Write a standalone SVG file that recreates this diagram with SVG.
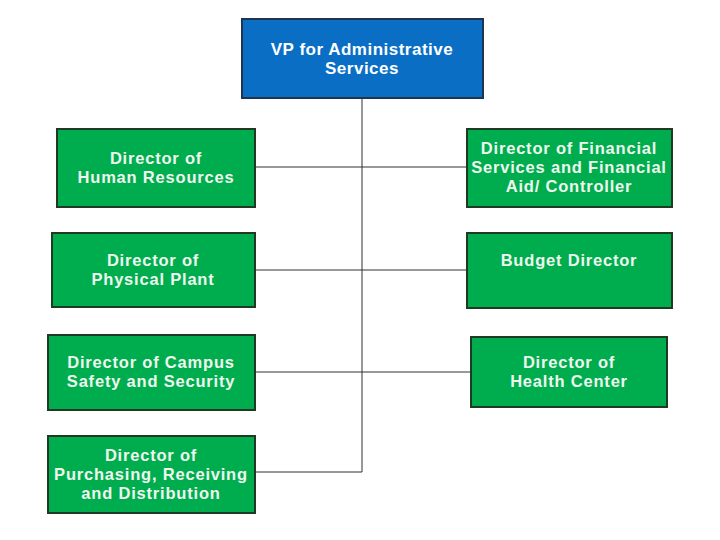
<svg xmlns="http://www.w3.org/2000/svg" width="720" height="540" viewBox="0 0 720 540">
<style>
.g{fill:#00ad4e;stroke:#1e3a22;stroke-width:2}
.b{fill:#0a6fc4;stroke:#1d3550;stroke-width:2}
text{font-family:"Liberation Sans",Arial,sans-serif;font-weight:bold;text-anchor:middle}
.t{font-size:16.5px;letter-spacing:0.8px;fill:#eef7ee}
.v{font-size:17px;letter-spacing:0.5px;fill:#ffffff}
.c{stroke:#333;stroke-width:1;fill:none}
</style>
<rect width="720" height="540" fill="#fff"/>
<g id="connectors">
<path class="c" d="M362 98V472M255 167H466M255 270H466M255 372H470M255 472H362"/>
</g>
<g id="vp"><rect class="b" x="242" y="19" width="241" height="79"/>
<text class="v" x="362" y="55">VP for Administrative</text><text class="v" x="362" y="74">Services</text></g>
<g id="hr"><rect class="g" x="57" y="129" width="198" height="78"/>
<text class="t" x="156" y="164">Director of</text><text class="t" x="156" y="183">Human Resources</text></g>
<g id="plant"><rect class="g" x="52" y="233" width="203" height="74"/>
<text class="t" x="153" y="266">Director of</text><text class="t" x="153" y="285">Physical Plant</text></g>
<g id="safety"><rect class="g" x="48" y="335" width="207" height="75"/>
<text class="t" x="151" y="368">Director of Campus</text><text class="t" x="151" y="387">Safety and Security</text></g>
<g id="purchasing"><rect class="g" x="48" y="436" width="207" height="77"/>
<text class="t" x="151" y="461">Director of</text><text class="t" x="151" y="480">Purchasing, Receiving</text><text class="t" x="151" y="499">and Distribution</text></g>
<g id="finance"><rect class="g" x="467" y="129" width="205" height="78"/>
<text class="t" x="569" y="154">Director of Financial</text><text class="t" x="569" y="173">Services and Financial</text><text class="t" x="569" y="192">Aid/ Controller</text></g>
<g id="budget"><rect class="g" x="467" y="233" width="205" height="75"/>
<text class="t" x="569" y="266">Budget Director</text></g>
<g id="health"><rect class="g" x="471" y="337" width="196" height="70"/>
<text class="t" x="569" y="368">Director of</text><text class="t" x="569" y="387">Health Center</text></g>
</svg>
